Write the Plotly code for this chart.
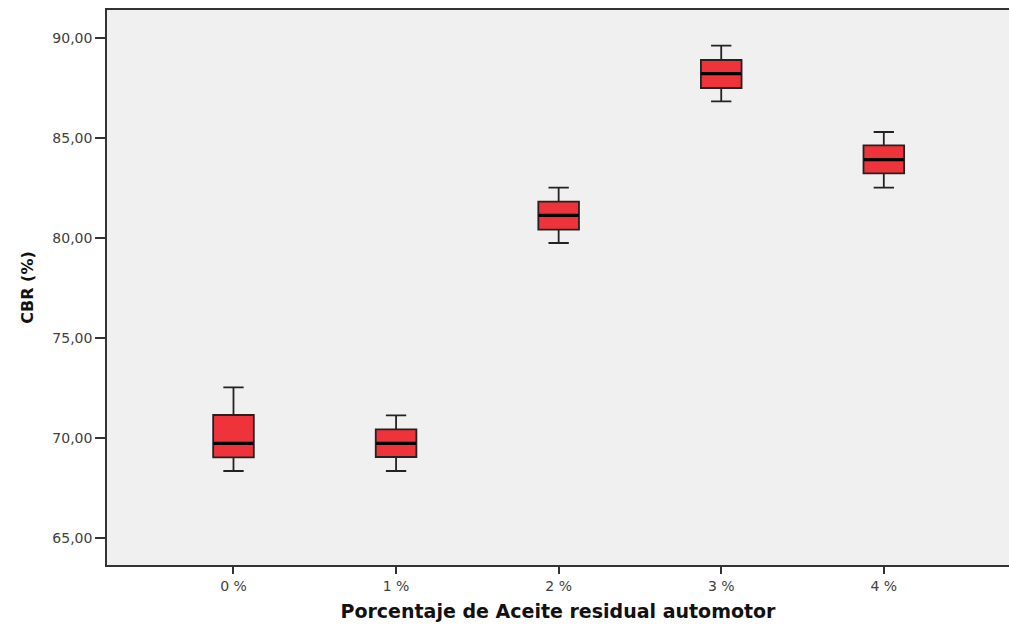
import plotly.graph_objects as go

categories = ["0 %", "1 %", "2 %", "3 %", "4 %"]
lower_whisker = [68.35, 68.35, 79.75, 86.83, 82.52]
q1_vals = [69.03, 69.05, 80.42, 87.50, 83.23]
median_vals = [69.73, 69.73, 81.13, 88.22, 83.92]
q3_vals = [71.15, 70.43, 81.82, 88.90, 84.63]
upper_whisker = [72.53, 71.13, 82.52, 89.62, 85.30]
y_ticks = [65, 70, 75, 80, 85, 90]

fig = go.Figure()
fig.add_trace(go.Box(
    x=categories,
    q1=q1_vals, median=median_vals, q3=q3_vals,
    lowerfence=lower_whisker, upperfence=upper_whisker,
    fillcolor="#EE333B",
    line=dict(color="#222222", width=1.8),
    width=0.25,
    whiskerwidth=0.5,
    boxpoints=False,
    showlegend=False,
    hoverinfo="skip",
))
fig.add_trace(go.Scatter(
    x=categories, y=median_vals, mode="markers",
    marker=dict(symbol="line-ew", size=28.5, line=dict(color="black", width=3.2)),
    showlegend=False, hoverinfo="skip",
))

tick_font = dict(family="DejaVu Sans, Verdana, sans-serif", size=14, color="#404040")
title_family = "DejaVu Sans, Verdana, sans-serif"
fig.update_layout(
    width=1009, height=625,
    margin=dict(l=107, r=0, t=10, b=60),
    paper_bgcolor="white",
    plot_bgcolor="#F0F0F0",
    separators=",.",
    font=tick_font,
    xaxis=dict(
        type="category",
        range=[-0.778, 4.77],
        showline=True, linecolor="#333333", linewidth=1.5, mirror=True,
        ticks="outside", ticklen=7, tickcolor="#333333", tickwidth=1.5,
        showgrid=False, zeroline=False,
        tickfont=tick_font,
        title=dict(text="<b>Porcentaje de Aceite residual automotor</b>",
                   font=dict(family=title_family, size=19, color="#111111"),
                   standoff=12),
    ),
    yaxis=dict(
        range=[63.65, 91.4],
        tickvals=y_ticks, tickformat=".2f",
        showline=True, linecolor="#333333", linewidth=1.5,
        ticks="outside", ticklen=10, tickcolor="#333333", tickwidth=1.5,
        showgrid=False, zeroline=False,
        tickfont=tick_font,
        title=dict(text="<b>CBR (%)</b>",
                   font=dict(family=title_family, size=16, color="#111111"),
                   standoff=15),
    ),
)

fig.write_html(
    "out.html",
    config={"displayModeBar": False},
    post_script="document.body.style.margin='0';document.body.style.overflow='hidden';",
)
